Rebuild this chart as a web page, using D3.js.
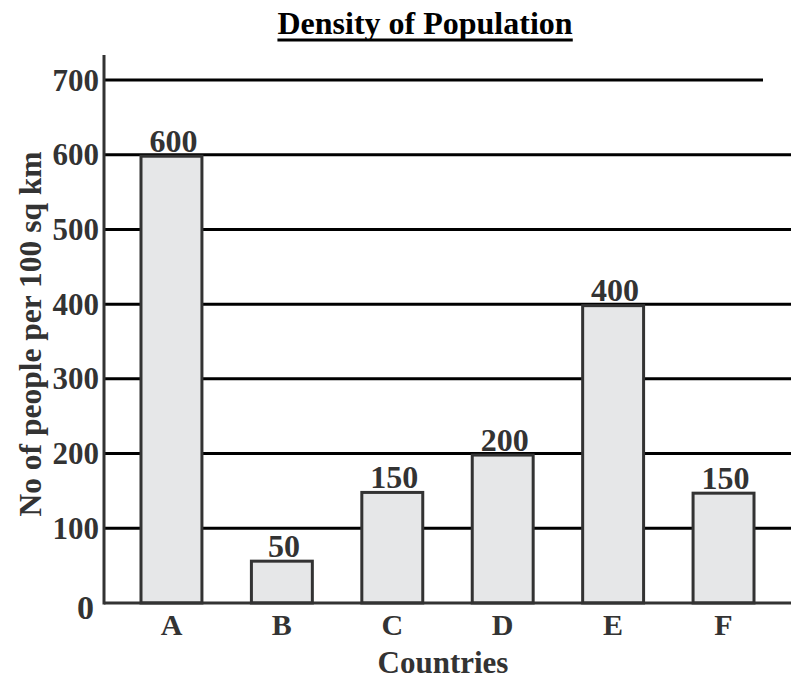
<!DOCTYPE html>
<html>
<head>
<meta charset="utf-8">
<script src="https://cdn.jsdelivr.net/npm/d3@7/dist/d3.min.js"></script>
<style>
  body { margin: 0; background: #fff; }
  text { font-family: "Liberation Serif", "Times New Roman", serif; font-weight: bold; }
</style>
</head>
<body>
<div id="chart"></div>
<script>
// Data
var countries = ['A', 'B', 'C', 'D', 'E', 'F'];
var density = [600, 58, 150, 200, 400, 149];      // bar heights as drawn
var densityLabels = ['600', '50', '150', '200', '400', '150'];
var yTicks = [0, 100, 200, 300, 400, 500, 600, 700];

(function () {
  var width = 791, height = 679;
  var plotLeft = 104, plotRight = 791, plotTop = 80, plotBottom = 603;

  var svg = d3.select('#chart').append('svg')
      .attr('width', width)
      .attr('height', height);

  var x = d3.scaleBand()
      .domain(countries)
      .range([plotLeft, plotRight])
      .paddingInner(0.43)
      .paddingOuter(0.326);

  var y = d3.scaleLinear()
      .domain([0, 700])
      .range([plotBottom, plotTop]);

  // Title, underlined
  var title = svg.append('text')
      .attr('x', 425)
      .attr('y', 34)
      .attr('text-anchor', 'middle')
      .attr('font-size', 32)
      .attr('fill', '#000')
      .text('Density of Population');
  var tb = title.node().getBBox();
  svg.append('line')
      .attr('x1', tb.x).attr('x2', tb.x + tb.width)
      .attr('y1', 40).attr('y2', 40)
      .attr('stroke', '#000').attr('stroke-width', 3);

  // Gridlines (top one stops short)
  svg.append('g').selectAll('line')
      .data(yTicks.filter(function (d) { return d > 0; }))
      .join('line')
      .attr('x1', plotLeft)
      .attr('x2', function (d) { return d === 700 ? 763 : plotRight; })
      .attr('y1', function (d) { return y(d); })
      .attr('y2', function (d) { return y(d); })
      .attr('stroke', '#000')
      .attr('stroke-width', 3);

  // Bars
  svg.append('g').selectAll('rect')
      .data(density)
      .join('rect')
      .attr('x', function (d, i) { return x(countries[i]) + 1; })
      .attr('y', function (d) { return y(d) + 1.5; })
      .attr('width', x.bandwidth() - 2)
      .attr('height', function (d) { return y(0) - y(d) - 1.5; })
      .attr('fill', '#e6e7e8')
      .attr('stroke', '#333')
      .attr('stroke-width', 3);

  // Value labels
  svg.append('g').selectAll('text')
      .data(density)
      .join('text')
      .attr('x', function (d, i) { return x(countries[i]) + x.bandwidth() / 2 + 2; })
      .attr('y', function (d) { return y(d) - 3; })
      .attr('text-anchor', 'middle')
      .attr('font-size', 32)
      .attr('fill', '#333')
      .text(function (d, i) { return densityLabels[i]; });

  // Axis lines
  svg.append('line')
      .attr('x1', plotLeft).attr('x2', plotLeft)
      .attr('y1', 55).attr('y2', plotBottom + 1.5)
      .attr('stroke', '#333').attr('stroke-width', 3);
  svg.append('line')
      .attr('x1', plotLeft).attr('x2', plotRight)
      .attr('y1', plotBottom).attr('y2', plotBottom)
      .attr('stroke', '#333').attr('stroke-width', 3);

  // Y tick labels
  svg.append('g').selectAll('text')
      .data(yTicks)
      .join('text')
      .attr('x', function (d) { return d === 0 ? 94 : 99; })
      .attr('y', function (d) { return d === 0 ? y(d) + 4 : y(d); })
      .attr('dy', '0.34em')
      .attr('text-anchor', 'end')
      .attr('font-size', function (d) { return d === 0 ? 34 : 31; })
      .attr('fill', '#333')
      .text(function (d) { return d; });

  // X tick labels
  svg.append('g').selectAll('text')
      .data(countries)
      .join('text')
      .attr('x', function (d) { return x(d) + x.bandwidth() / 2; })
      .attr('y', 635)
      .attr('text-anchor', 'middle')
      .attr('font-size', 30)
      .attr('fill', '#333')
      .text(function (d) { return d; });

  // Axis titles
  svg.append('text')
      .attr('x', 443)
      .attr('y', 673)
      .attr('text-anchor', 'middle')
      .attr('font-size', 31)
      .attr('fill', '#333')
      .text('Countries');

  svg.append('text')
      .attr('transform', 'translate(41,334) rotate(-90)')
      .attr('text-anchor', 'middle')
      .attr('font-size', 31.5)
      .attr('fill', '#333')
      .text('No of people per 100 sq km');
})();
</script>
</body>
</html>
